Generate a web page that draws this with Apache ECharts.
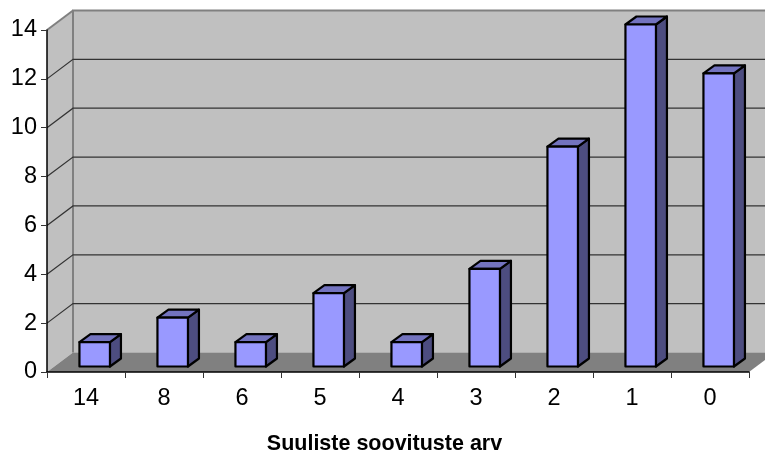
<!DOCTYPE html>
<html>
<head>
<meta charset="utf-8">
<style>html,body{margin:0;padding:0;background:#fff}#c{width:765px;height:452px}</style>
<script src="https://cdn.jsdelivr.net/npm/echarts@6/dist/echarts.min.js"></script>
</head>
<body>
<div id="c"></div>
<script>
const categories = ['14','8','6','5','4','3','2','1','0'];
const values = [1,2,1,3,1,4,9,14,12];
const yTicks = [2,4,6,8,10,12];
const yMin = 0, yMax = 14, yStep = 2;
const xTitle = 'Suuliste soovituste arv';

const wallDx = 26, wallDy = -19.5;
const barInDx = 8.7, barInDy = -5.5;
const barW = 30.5, barDx = 11, barDy = -8;

const chart = echarts.init(document.getElementById('c'), null, {renderer:'canvas'});

function walls(params, api){
  const a = api.coord([0, yMin]);
  const lastX = api.coord([categories.length-1, yMin])[0];
  const step = api.size([1,0])[0];
  const x0 = a[0]-step/2, x1 = lastX+step/2, y0 = a[1], y1 = api.coord([0,yMax])[1];
  const b = (x,y)=>[x+wallDx,y+wallDy];
  const wallGrey = '#c0c0c0', floorGrey = '#808080';
  return {type:'group', children:[
    {type:'polygon', shape:{points:[b(x0,y1),b(x1,y1),b(x1,y0),b(x0,y0)]}, style:{fill:wallGrey, stroke:null}},
    {type:'polygon', shape:{points:[[x0,y1],b(x0,y1),b(x0,y0),[x0,y0]]}, style:{fill:wallGrey, stroke:null}},
    {type:'polygon', shape:{points:[[x0,y0],[x1,y0],b(x1,y0),b(x0,y0)]}, style:{fill:floorGrey, stroke:null}},
    {type:'polyline', shape:{points:[b(x0,y0),b(x0,y1),b(x1,y1)]}, style:{fill:null, stroke:floorGrey, lineWidth:2}},
    {type:'line', shape:{x1:x0,y1:y1,x2:b(x0,y1)[0],y2:b(x0,y1)[1]}, style:{stroke:floorGrey, lineWidth:2}}
  ]};
}
function grids(params, api){
  const p = api.coord([0, api.value(0)]);
  const x0 = p[0]-api.size([1,0])[0]/2;
  const x1 = api.coord([categories.length-1, 0])[0]+api.size([1,0])[0]/2;
  const y = p[1];
  return {type:'polyline', shape:{points:[[x0,y],[x0+wallDx,y+wallDy],[x1+wallDx,y+wallDy]]},
    style:{fill:null, stroke:'#333333', lineWidth:1.2}};
}
function bars(params, api){
  const base = api.coord([api.value(0), 0]);
  const top = api.coord([api.value(0), api.value(1)]);
  const xL = base[0]-barW/2+barInDx, xR = xL+barW;
  const yB = base[1]+barInDy, yT = top[1]+barInDy;
  const sty = f=>({fill:f, stroke:'#000', lineWidth:2.2, lineJoin:'round'});
  return {type:'group', children:[
    {type:'polygon', shape:{points:[[xR,yT],[xR+barDx,yT+barDy],[xR+barDx,yB+barDy],[xR,yB]]}, style:sty('#4d4d80')},
    {type:'polygon', shape:{points:[[xL,yT],[xL+barDx,yT+barDy],[xR+barDx,yT+barDy],[xR,yT]]}, style:sty('#7373bf')},
    {type:'polygon', shape:{points:[[xL,yT],[xR,yT],[xR,yB],[xL,yB]]}, style:sty('#9999ff')}
  ]};
}

chart.setOption({
  animation:false,
  backgroundColor:'#fff',
  textStyle:{fontFamily:'Liberation Sans'},
  grid:{left:47, right:16, top:30, bottom:80, containLabel:false, outerBoundsMode:'none'},
  xAxis:{type:'category', data:categories, z:5,
    axisLine:{lineStyle:{color:'#000', width:1.5}},
    axisTick:{show:true, alignWithLabel:false, length:6, lineStyle:{color:'#333', width:1}},
    axisLabel:{fontSize:23.5, color:'#000', margin:15, interval:0, fontFamily:'Liberation Sans'},
    splitLine:{show:false},
    name:xTitle, nameLocation:'middle', nameGap:61,
    nameTextStyle:{fontSize:21.5, fontWeight:'bold', color:'#000', fontFamily:'Liberation Sans', padding:[0,27,0,0]}
  },
  yAxis:{type:'value', min:yMin, max:yMax, interval:yStep, z:5,
    axisLine:{show:true, lineStyle:{color:'#000', width:1.5}},
    axisTick:{show:true, length:6, lineStyle:{color:'#333', width:1}},
    axisLabel:{fontSize:23.5, color:'#000', margin:10, fontFamily:'Liberation Sans'},
    splitLine:{show:false}
  },
  series:[
    {type:'custom', z:1, renderItem:walls, data:[[0,0]], silent:true},
    {type:'custom', z:2, renderItem:grids, data:yTicks.map(v=>[v]), encode:{y:0}, silent:true},
    {type:'custom', z:3, renderItem:bars, data:values.map((v,i)=>[i,v]), encode:{x:0,y:1}, silent:true}
  ]
});
</script>
</body>
</html>
